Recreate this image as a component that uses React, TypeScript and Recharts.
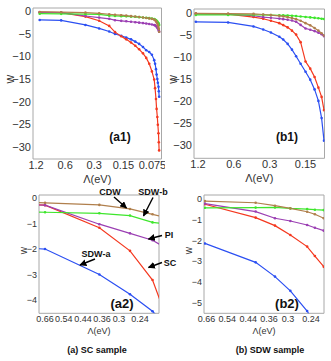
import { LineChart, Line, XAxis, YAxis, ReferenceArea } from 'recharts';

const L0 = 1.2;

// (a) SC sample: cutoff grid and w of each channel
const lambdaA = [1.1, 0.66, 0.37, 0.267, 0.21, 0.183, 0.158, 0.14, 0.125, 0.113, 0.103, 0.094, 0.087, 0.081, 0.076, 0.072, 0.0705, 0.069, 0.068, 0.0668, 0.066, 0.065, 0.0645, 0.064];
const sdwaA = [-1.9, -2.0, -3.0, -3.78, -4.45, -5.0, -5.4, -5.8, -6.2, -6.7, -7.2, -7.9, -8.6, -9.0, -9.6, -10.8, -11.6, -12.8, -14.0, -15.0, -15.8, -16.7, -17.7, -18.9];
const scA = [-0.18, -0.27, -1.16, -2.07, -3.22, -4.6, -5.5, -6.2, -6.9, -7.6, -8.4, -9.3, -10.3, -11.6, -13.3, -15.1, -17.0, -19.4, -21.6, -23.4, -25.1, -27.0, -29.0, -30.8];
const piA = [-0.22, -0.27, -1.02, -1.38, -1.65, -1.95, -2.1, -2.2, -2.3, -2.4, -2.5, -2.6, -2.7, -2.8, -2.9, -3.0, -3.1, -3.25, -3.4, -3.6, -3.8, -4.05, -4.3, -4.5];
const sdwbA = [-0.5, -0.55, -0.59, -0.68, -0.95, -1.0, -1.05, -1.1, -1.15, -1.2, -1.28, -1.35, -1.42, -1.5, -1.58, -1.68, -1.8, -1.95, -2.1, -2.25, -2.45, -2.6, -2.8, -3.0];
const cdwA = [-0.12, -0.18, -0.26, -0.42, -0.63, -0.75, -0.85, -0.95, -1.05, -1.15, -1.25, -1.35, -1.45, -1.55, -1.65, -1.8, -1.95, -2.15, -2.4, -2.7, -3.05, -3.45, -3.9, -4.5];

// (b) SDW sample
const lambdaB = [1.25, 0.67, 0.41, 0.34, 0.293, 0.249, 0.231, 0.212, 0.195, 0.18, 0.165, 0.15, 0.137, 0.126, 0.117, 0.11, 0.105];
const sdwaB = [-2.0, -2.15, -3.05, -3.73, -4.41, -5.37, -6.0, -7.0, -8.3, -9.8, -11.5, -13.3, -15.1, -17.3, -19.9, -23.8, -28.9];
const scB = [-0.15, -0.28, -0.92, -1.3, -1.75, -2.3, -2.75, -3.26, -4.0, -4.9, -6.6, -11.0, -12.6, -14.5, -16.9, -19.0, -22.0];
const piB = [-0.2, -0.25, -0.63, -0.95, -1.08, -1.27, -1.4, -1.54, -1.7, -2.0, -2.7, -3.5, -3.8, -4.1, -4.45, -4.8, -5.25];
const sdwbB = [-0.45, -0.45, -0.44, -0.43, -0.48, -0.51, -0.54, -0.56, -0.62, -0.7, -0.8, -0.9, -1.0, -1.1, -1.2, -1.3, -1.36];
const cdwB = [-0.1, -0.13, -0.21, -0.35, -0.48, -0.64, -0.76, -0.95, -1.15, -1.4, -1.75, -2.3, -2.8, -3.4, -4.0, -4.6, -5.1];

const topTicks = [1.2, 0.6, 0.3, 0.15, 0.075];
const zoomTicks = [0.66, 0.54, 0.44, 0.36, 0.3, 0.24];
const topWTicks = [0, -5, -10, -15, -20, -25, -30];
const a2WTicks = [0, -1, -2, -3, -4];
const b2WTicks = [0, -1, -2, -3, -4, -5];

const SERIES = [
  { key: 'sdwa', color: '#2b4ff2' },
  { key: 'sc', color: '#f4381f' },
  { key: 'pi', color: '#9b3fb3' },
  { key: 'sdwb', color: '#3ee62c' },
  { key: 'cdw', color: '#b07f4c' },
];

const toX = (lam: number) => Math.log(L0 / lam);
const fmtLambda = (x: number) => String(Number((L0 * Math.exp(-x)).toPrecision(2)));
const fmtW = (v: number) => (v === 0 ? '0' : '\u2212' + Math.abs(v));

function buildRows(lambda: number[], sdwa: number[], sc: number[], pi: number[], sdwb: number[], cdw: number[]) {
  return lambda.map((lam, i) => ({ x: toX(lam), sdwa: sdwa[i], sc: sc[i], pi: pi[i], sdwb: sdwb[i], cdw: cdw[i] }));
}

const rowsA = buildRows(lambdaA, sdwaA, scA, piA, sdwbA, cdwA);
const rowsB = buildRows(lambdaB, sdwaB, scB, piB, sdwbB, cdwB);

function Panel({ rows, box, margin, yWidth, xRange, xTicks, yDomain, yTicks, font, titleOffset, wOffset }: any) {
  const xd = [toX(xRange[0]), toX(xRange[1])];
  return (
    <div style={{ position: 'absolute', left: box.left, top: box.top }}>
      <LineChart width={box.width} height={box.height} data={rows} margin={margin}>
        <XAxis
          type="number"
          dataKey="x"
          domain={xd}
          allowDataOverflow
          ticks={xTicks.map(toX)}
          interval={0}
          tickFormatter={fmtLambda}
          axisLine={false}
          tickLine={false}
          tickSize={0}
          tickMargin={2}
          height={30}
          tick={{ fontSize: font, fill: '#333' }}
          label={{ value: 'Λ(eV)', position: 'insideBottom', offset: titleOffset, fontSize: font, fill: '#333' }}
        />
        <YAxis
          type="number"
          domain={yDomain}
          allowDataOverflow
          ticks={yTicks}
          interval={0}
          tickFormatter={fmtW}
          axisLine={false}
          tickLine={false}
          tickSize={0}
          tickMargin={2}
          width={yWidth}
          tick={{ fontSize: font, fill: '#333' }}
          label={{ value: 'w', angle: -90, position: 'insideLeft', offset: wOffset, fontSize: font + 1, fill: '#333' }}
        />
        <ReferenceArea x1={xd[0]} x2={xd[1]} y1={yDomain[0]} y2={yDomain[1]} fill="none" stroke="#a8a8a8" strokeWidth={1} ifOverflow="visible" />
        {SERIES.map((s) => (
          <Line
            key={s.key}
            type="linear"
            dataKey={s.key}
            stroke={s.color}
            strokeWidth={1.2}
            dot={{ r: 1.3, fill: s.color, stroke: s.color, strokeWidth: 0 }}
            isAnimationActive={false}
          />
        ))}
      </LineChart>
    </div>
  );
}

function Arrow({ x1, y1, x2, y2 }: any) {
  return <line x1={x1} y1={y1} x2={x2} y2={y2} stroke="#000" strokeWidth={1.4} markerEnd="url(#head)" />;
}

export default function App() {
  return (
    <div style={{ position: 'absolute', left: 0, top: 0, width: 331, height: 361, background: '#fff', fontFamily: '"Liberation Sans", Arial, sans-serif' }}>
      <Panel
        rows={rowsA}
        box={{ left: 0, top: 0, width: 165, height: 190 }}
        margin={{ top: 8, right: 3.5, bottom: 1, left: 3 }}
        yWidth={30}
        xRange={[1.29, 0.0605]}
        xTicks={topTicks}
        yDomain={[-32.7, 0.75]}
        yTicks={topWTicks}
        font={11}
        titleOffset={6}
        wOffset={7}
      />
      <Panel
        rows={rowsB}
        box={{ left: 165, top: 0, width: 166, height: 190 }}
        margin={{ top: 9, right: 6.5, bottom: 1.7, left: 3 }}
        yWidth={26}
        xRange={[1.295, 0.104]}
        xTicks={topTicks.slice(0, 4)}
        yDomain={[-32.9, 0.9]}
        yTicks={topWTicks}
        font={11}
        titleOffset={6}
        wOffset={5}
      />
      <Panel
        rows={rowsA}
        box={{ left: 0, top: 185, width: 165, height: 176 }}
        margin={{ top: 10, right: 6, bottom: 17.7, left: 3 }}
        yWidth={36}
        xRange={[0.704, 0.196]}
        xTicks={zoomTicks}
        yDomain={[-4.53, 0.13]}
        yTicks={a2WTicks}
        font={9}
        titleOffset={9}
        wOffset={20}
      />
      <Panel
        rows={rowsB}
        box={{ left: 165, top: 185, width: 166, height: 176 }}
        margin={{ top: 10, right: 7, bottom: 17.7, left: 3 }}
        yWidth={36}
        xRange={[0.676, 0.2115]}
        xTicks={zoomTicks}
        yDomain={[-5.48, 0.16]}
        yTicks={b2WTicks}
        font={9}
        titleOffset={9}
        wOffset={20}
      />
      <svg width={331} height={361} style={{ position: 'absolute', left: 0, top: 0, pointerEvents: 'none' }}>
        <defs>
          <marker id="head" viewBox="0 0 10 10" refX="9" refY="5" markerWidth="5" markerHeight="5" orient="auto">
            <path d="M0,0 L10,5 L0,10 z" fill="#000" />
          </marker>
        </defs>
        <g fontWeight="bold" fill="#111" textAnchor="middle">
          <text x={120} y={141} fontSize={12}>(a1)</text>
          <text x={287} y={141} fontSize={12}>(b1)</text>
          <text x={122} y={308} fontSize={13}>(a2)</text>
          <text x={287} y={308} fontSize={13}>(b2)</text>
          <text x={97} y={353} fontSize={9}>(a) SC sample</text>
          <text x={270} y={353} fontSize={9}>(b) SDW sample</text>
          <text x={110} y={195} fontSize={9}>CDW</text>
          <text x={153} y={195} fontSize={9}>SDW-b</text>
          <text x={169} y={238} fontSize={9}>PI</text>
          <text x={170} y={265.5} fontSize={9}>SC</text>
          <text x={96} y={256.5} fontSize={9}>SDW-a</text>
        </g>
        <Arrow x1={114} y1={197} x2={126.5} y2={208} />
        <Arrow x1={153} y1={197.5} x2={143.5} y2={216} />
        <Arrow x1={162} y1={235.5} x2={148.5} y2={239} />
        <Arrow x1={162} y1={262.5} x2={148.5} y2={267.5} />
        <Arrow x1={95} y1={259} x2={80} y2={265} />
      </svg>
    </div>
  );
}
